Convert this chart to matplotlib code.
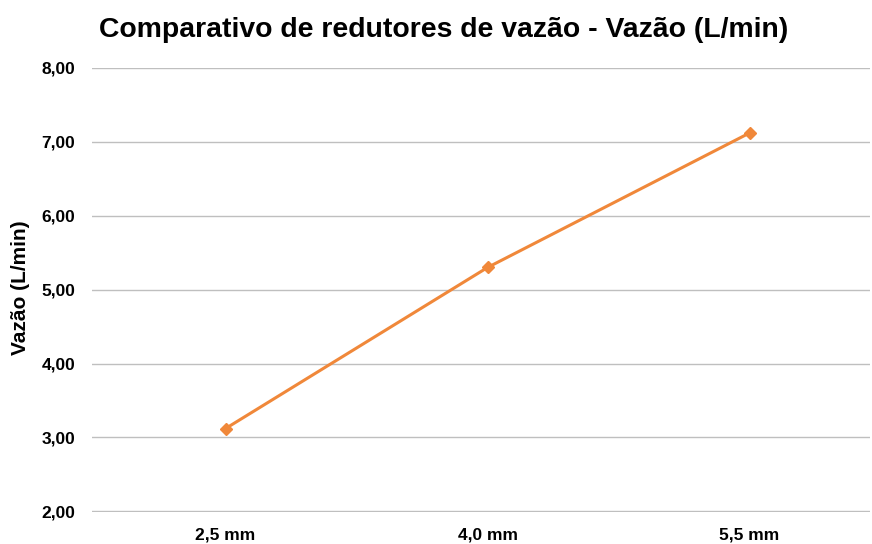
import matplotlib
matplotlib.use("Agg")
import matplotlib.pyplot as plt
from matplotlib.ticker import FuncFormatter

# Dados do grafico
categorias = ["2,5 mm", "4,0 mm", "5,5 mm"]
vazao = [3.12, 5.30, 7.12]
yticks = [2, 3, 4, 5, 6, 7, 8]

plt.rcParams['font.family'] = ['Liberation Sans', 'DejaVu Sans']

fig = plt.figure(figsize=(8.72, 5.44), dpi=100)
ax = fig.add_axes([92/872, 1 - 512/544, (870 - 92)/872, (512 - 68)/544])

x = list(range(len(categorias)))
ax.plot(x, vazao, color="#F0883A", linewidth=2.2, marker="D", markersize=6, zorder=3)

ax.set_xlim(-0.51, 2.46)
ax.set_ylim(1.99, 8)
ax.set_xticks(x)
ax.set_xticklabels(categorias, fontsize=12.5, fontweight="bold")
ax.set_yticks(yticks)
ax.yaxis.set_major_formatter(FuncFormatter(lambda v, p: ("%.2f" % v).replace(".", ",")))
for lab in ax.get_yticklabels():
    lab.set_fontsize(12.5)
    lab.set_fontweight("bold")
ax.tick_params(length=0)
ax.tick_params(axis="x", pad=11)
ax.tick_params(axis="y", pad=12)

ax.grid(axis="y", color="#BFBFBF", linewidth=1)
ax.set_axisbelow(True)
for s in ax.spines.values():
    s.set_visible(False)

fig.text(20/872, 1 - 288/544, "Vazão (L/min)", fontsize=15, fontweight="bold",
         rotation=90, ha="center", va="center")
fig.text(444/872, 1 - 30/544, "Comparativo de redutores de vazão - Vazão (L/min)",
         fontsize=20.4, fontweight="bold", ha="center", va="center")

fig.savefig("out.png", dpi=100)
